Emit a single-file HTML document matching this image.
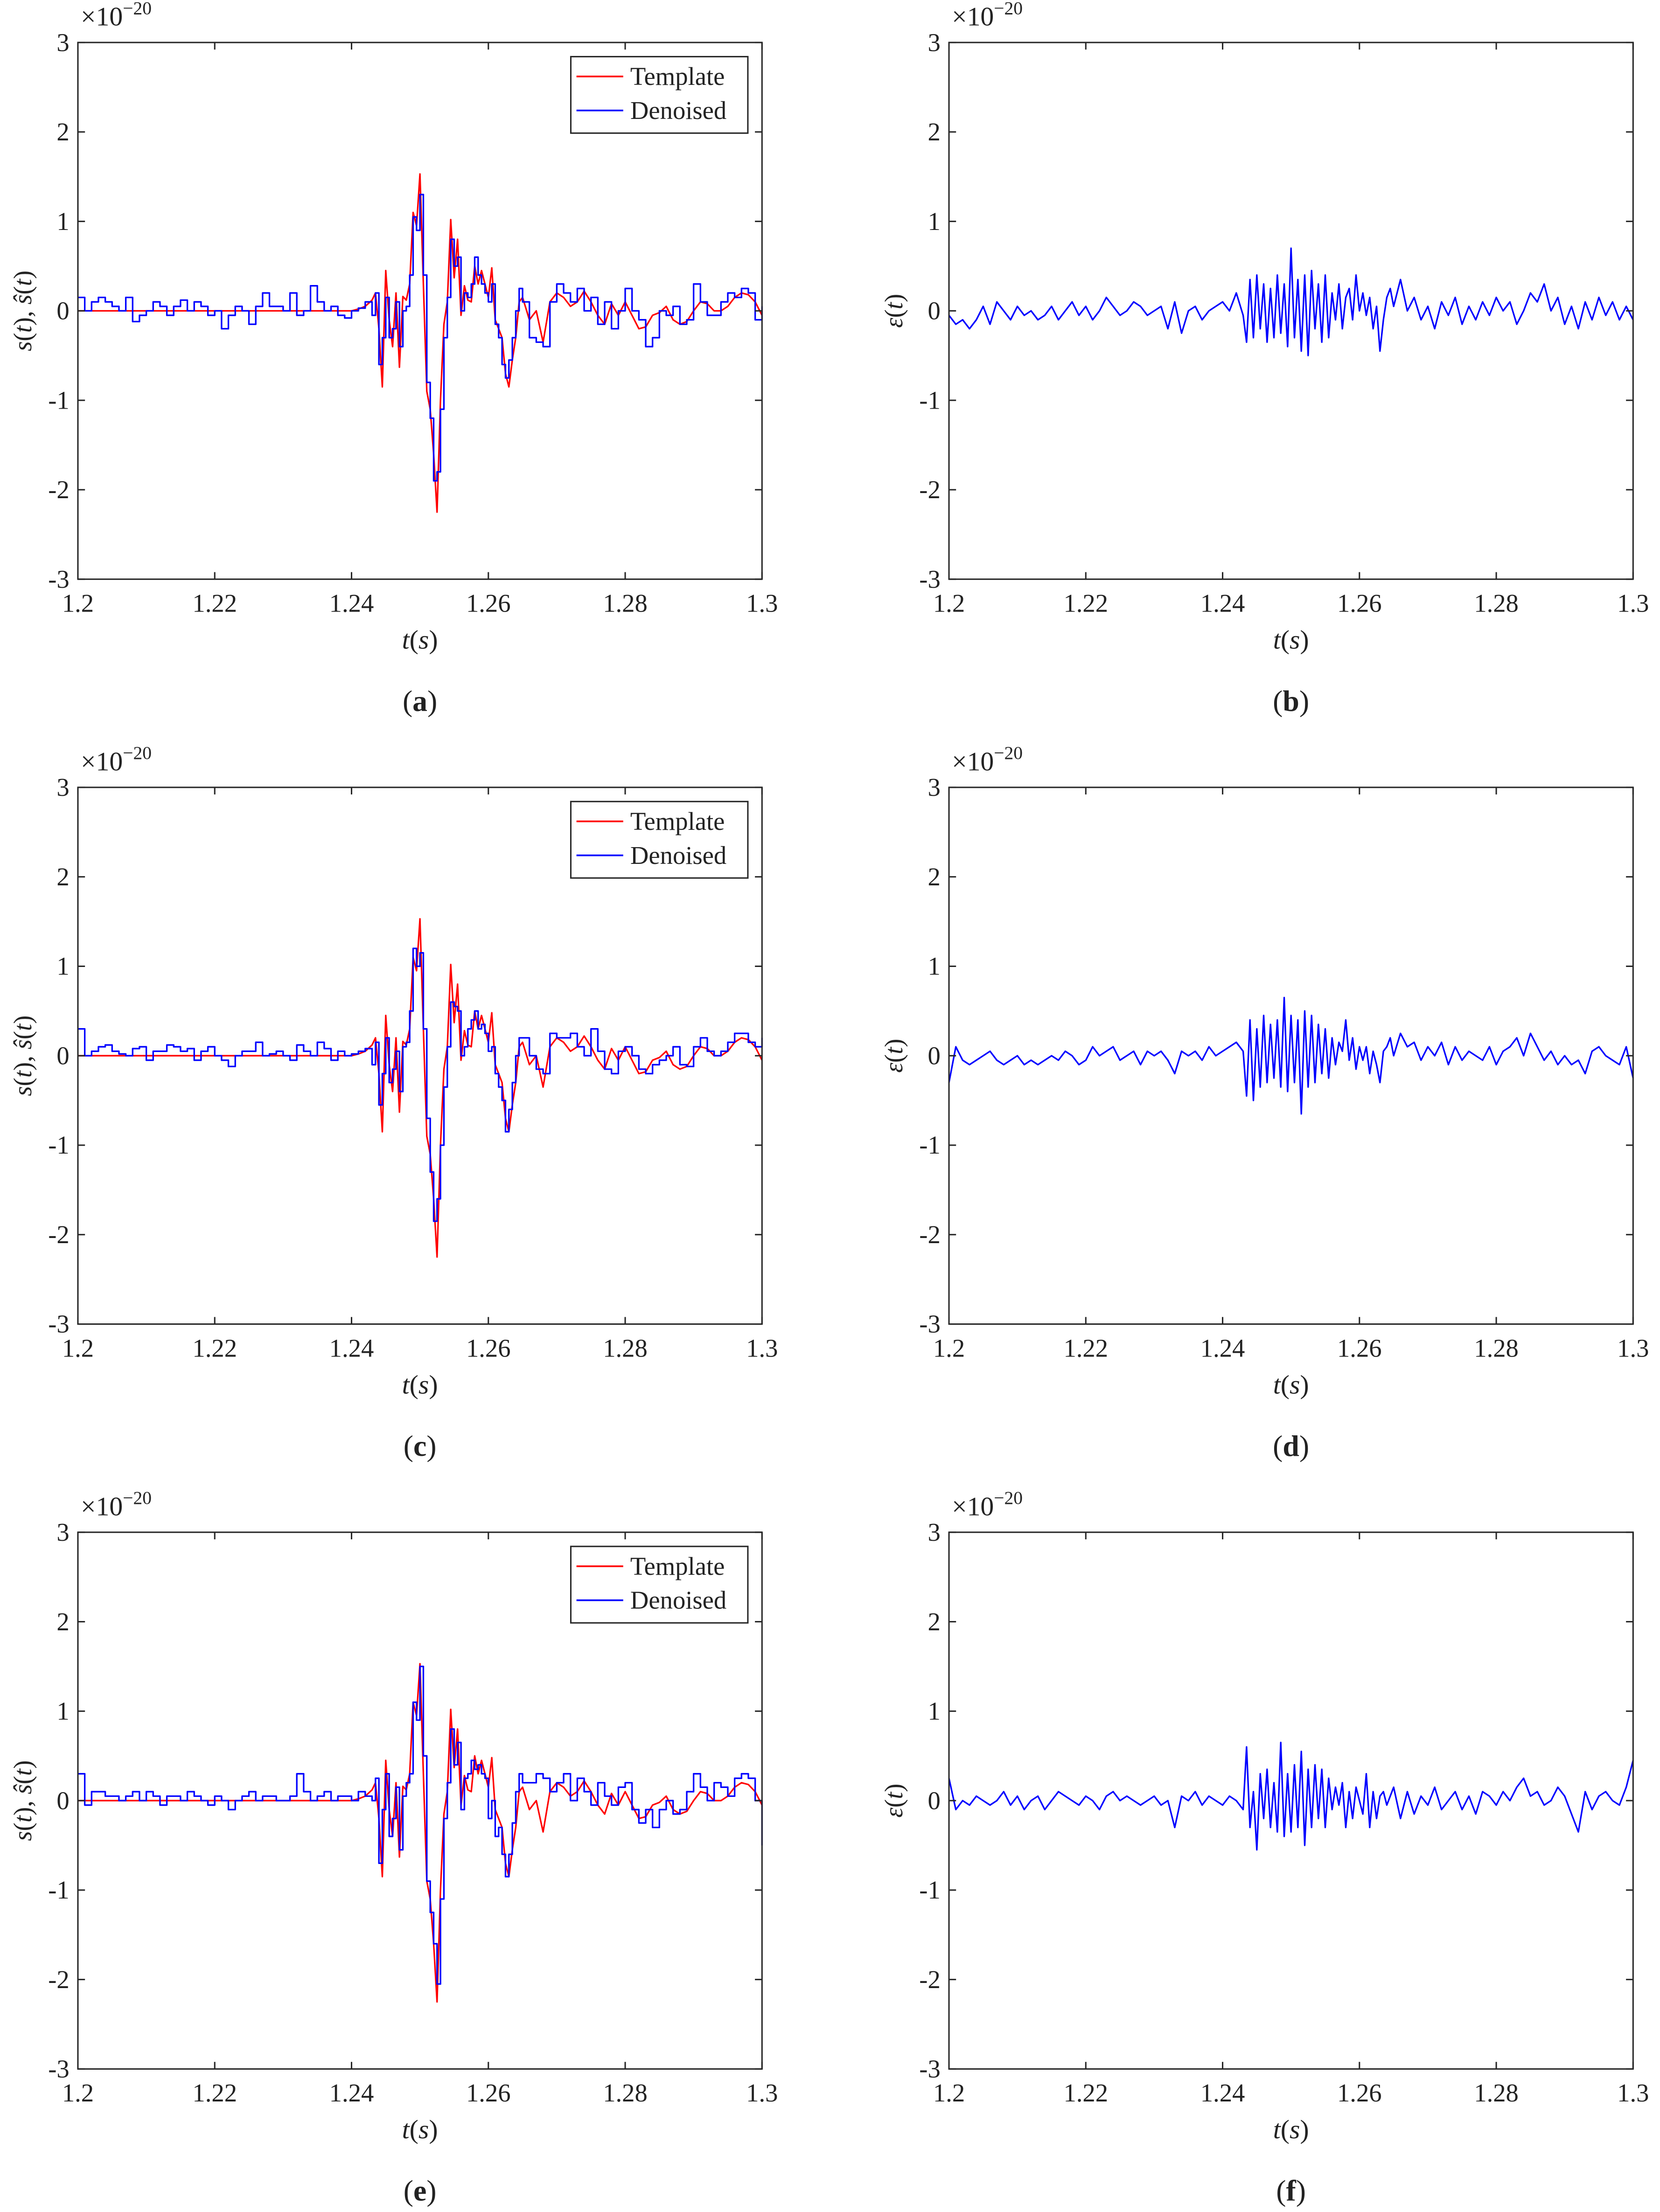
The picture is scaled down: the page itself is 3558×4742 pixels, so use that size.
<!DOCTYPE html>
<html><head><meta charset="utf-8"><style>
html,body{margin:0;padding:0;background:#fff}
svg{display:block}
text{font-family:"Liberation Serif",serif;fill:#222}
</style></head><body>
<svg id="fig" width="3558" height="4742" viewBox="0 0 1172 1562" preserveAspectRatio="none" xmlns="http://www.w3.org/2000/svg"></svg>
<script>
// ---- shared data ----
const xTicks = [1.2, 1.22, 1.24, 1.26, 1.28, 1.3];
const xTickLabels = ["1.2", "1.22", "1.24", "1.26", "1.28", "1.3"];
const yTicks = [-3, -2, -1, 0, 1, 2, 3];
const yTickLabels = ["-3", "-2", "-1", "0", "1", "2", "3"];
const panelLetters = ["a", "b", "c", "d", "e", "f"];
// time segments: pre 1.200.. step 1ms, chirp 1.2435.. step 0.5ms, post 1.266.. step 1ms
const segStart = [1.200, 1.2435, 1.266];
const segStep = [0.001, 0.0005, 0.001];

const templatePre = [0,0,0,0,0,0,0,0,0,0, 0,0,0,0,0,0,0,0,0,0, 0,0,0,0,0,0,0,0,0,0, 0,0,0,0,0,0,0,0,0,0, 0,0.02,0.05,0.12];
const templateChirp = [0.2,-0.2,-0.85,0.45,-0.1,-0.4,0.2,-0.63,0.16,0.12, 0.3,1.1,0.95,1.53,0.3,-0.9,-1.1,-1.6,-2.25,-1.0, -0.15,0.1,1.02,0.37,0.8,-0.05,0.28,0.12,0.1,0.5, 0.3,0.45,0.3,0.15,0.48,-0.1,-0.2,-0.3,-0.7,-0.85, -0.55,-0.3,0.1,0.15];
const templatePost = [-0.1,0.0,-0.35,0.1,0.2,0.15,0.05,0.1,0.22,0.1, -0.05,-0.15,0.08,-0.05,0.1,-0.05,-0.2,-0.18,-0.05,-0.02, 0.05,-0.1,-0.15,-0.12,0.0,0.1,0.08,0.0,0.0,0.05, 0.15,0.2,0.18,0.1,-0.05];

const denoisedAPre = [0.15,0.0,0.1,0.15,0.1,0.05,0.0,0.15,-0.12,-0.05, 0.0,0.1,0.05,-0.05,0.05,0.12,0.0,0.1,0.05,-0.05, 0.0,-0.2,-0.05,0.05,0.0,-0.15,0.05,0.2,0.05,0.05, 0.0,0.2,-0.05,0.0,0.28,0.1,0.0,0.05,-0.05,-0.08, 0.0,0.03,0.1,-0.05];
const denoisedAChirp = [0.2,-0.6,-0.3,0.15,-0.3,-0.2,0.1,-0.4,0.0,0.05, 0.4,1.05,0.9,1.3,0.4,-0.8,-1.2,-1.9,-1.8,-1.1, -0.3,0.15,0.8,0.5,0.6,0.0,0.2,0.15,0.3,0.6, 0.4,0.3,0.2,0.1,0.3,-0.15,-0.3,-0.6,-0.75,-0.55, -0.3,0.0,0.25,0.1];
const denoisedAPost = [-0.3,-0.35,-0.4,0.1,0.3,0.2,0.1,0.25,0.0,0.15, -0.15,0.1,-0.2,0.0,0.25,0.0,-0.1,-0.4,-0.3,0.0, -0.05,0.05,-0.15,-0.1,0.3,0.1,-0.05,-0.05,0.1,0.2, 0.15,0.25,0.2,-0.1,0.05];
const residualBPre = [-0.05,-0.15,-0.1,-0.2,-0.1,0.05,-0.15,0.1,0.0,-0.1, 0.05,-0.05,0.0,-0.1,-0.05,0.05,-0.1,0.0,0.1,-0.05, 0.05,-0.1,0.0,0.15,0.05,-0.05,0.0,0.1,0.05,-0.05, 0.0,0.05,-0.2,0.1,-0.25,0.0,0.05,-0.1,0.0,0.05, 0.1,0.0,0.2,-0.05];
const residualBChirp = [-0.35,0.35,-0.3,0.4,-0.2,0.3,-0.35,0.25,-0.3,0.4, -0.25,0.3,-0.4,0.7,-0.3,0.35,-0.45,0.4,-0.5,0.45, -0.2,0.3,-0.35,0.4,-0.3,0.2,-0.1,0.3,-0.2,0.15, 0.25,-0.1,0.4,0.0,0.2,-0.05,0.15,-0.2,0.05,-0.45, -0.1,0.15,0.25,0.05];
const residualBPost = [0.35,0.0,0.15,-0.1,0.05,-0.2,0.1,-0.05,0.15,-0.15, 0.05,-0.1,0.1,-0.05,0.15,0.0,0.1,-0.15,0.0,0.2, 0.1,0.3,0.0,0.15,-0.15,0.05,-0.2,0.1,-0.1,0.15, -0.05,0.1,-0.1,0.05,-0.1];

const denoisedCPre = [0.3,0.0,0.05,0.1,0.12,0.05,0.02,0.0,0.08,0.1, -0.05,0.05,0.05,0.12,0.1,0.05,0.08,-0.05,0.05,0.1, 0.0,-0.05,-0.12,0.0,0.05,0.05,0.15,0.0,0.02,0.05, 0.0,-0.05,0.12,0.05,0.0,0.15,0.08,-0.05,0.05,0.0, 0.02,0.05,0.08,-0.1];
const denoisedCChirp = [0.15,-0.55,-0.2,0.2,-0.3,-0.15,0.05,-0.4,0.1,0.15, 0.5,1.2,1.0,1.15,0.3,-0.7,-1.3,-1.85,-1.6,-1.0, -0.35,0.1,0.6,0.55,0.5,0.0,0.1,0.3,0.4,0.5, 0.3,0.35,0.25,0.05,0.1,-0.2,-0.35,-0.5,-0.85,-0.6, -0.3,0.0,0.2,0.2];
const denoisedCPost = [0.0,-0.15,-0.2,0.25,0.2,0.2,0.25,0.1,0.0,0.3, 0.05,-0.15,-0.2,0.05,0.1,0.0,-0.15,-0.2,-0.1,-0.05, 0.0,0.1,-0.1,-0.12,0.1,0.2,0.05,0.0,0.05,0.15, 0.25,0.25,0.15,0.1,0.2];
const residualDPre = [-0.3,0.1,-0.05,-0.1,-0.05,0.0,0.05,-0.05,-0.1,-0.05, 0.0,-0.1,-0.05,-0.1,-0.05,0.0,-0.05,0.05,0.0,-0.1, -0.05,0.1,0.0,0.05,0.1,-0.05,0.0,0.05,-0.1,0.05, 0.0,0.05,-0.05,-0.2,0.05,0.0,0.05,-0.05,0.1,0.0, 0.05,0.1,0.15,0.05];
const residualDChirp = [-0.45,0.4,-0.5,0.3,-0.35,0.45,-0.3,0.35,-0.25,0.4, -0.35,0.65,-0.4,0.45,-0.3,0.4,-0.65,0.5,-0.35,0.45, -0.3,0.35,-0.2,0.3,-0.25,0.2,-0.1,0.15,0.05,0.4, -0.05,0.2,-0.15,0.1,-0.05,0.1,-0.2,0.05,-0.1,-0.3, 0.05,0.1,0.2,0.0];
const residualDPost = [0.25,0.1,0.15,-0.05,0.1,0.0,0.15,-0.1,0.1,-0.05, 0.05,0.0,-0.05,0.1,-0.1,0.05,0.1,0.2,0.0,0.25, 0.1,-0.05,0.05,-0.1,0.0,-0.1,-0.05,-0.2,0.05,0.1, 0.0,-0.05,-0.1,0.1,-0.25];

const denoisedEPre = [0.3,-0.05,0.1,0.1,0.05,0.05,0.0,0.05,0.1,0.0, 0.1,0.05,-0.05,0.05,0.05,0.0,0.1,0.05,0.0,-0.05, 0.05,0.0,-0.1,0.0,0.05,0.1,0.0,0.05,0.05,0.0, 0.0,0.05,0.3,0.1,0.0,0.05,0.1,0.0,0.05,0.05, 0.0,0.1,0.05,0.0];
const denoisedEChirp = [0.25,-0.7,-0.1,0.3,-0.4,-0.2,0.15,-0.55,0.05,0.2, 0.3,1.1,0.9,1.5,0.5,-0.9,-1.25,-1.6,-2.05,-1.1, -0.2,0.2,0.8,0.4,0.65,-0.1,0.25,0.3,0.45,0.35, 0.4,0.3,0.25,-0.2,0.0,-0.4,-0.3,-0.6,-0.85,-0.6, -0.25,0.1,0.3,0.2];
const denoisedEPost = [0.2,0.3,0.25,0.1,0.2,0.3,0.0,0.25,0.1,-0.05, 0.2,0.05,-0.05,0.15,0.2,-0.1,-0.25,-0.1,-0.3,-0.1, 0.0,-0.15,-0.1,0.1,0.3,0.15,0.0,0.2,0.15,0.05, 0.25,0.3,0.25,0.0,-0.5];
const residualFPre = [0.25,-0.1,0.0,-0.05,0.05,0.0,-0.05,0.0,0.1,-0.05, 0.05,-0.1,0.0,0.05,-0.1,0.0,0.1,0.05,0.0,-0.05, 0.05,0.0,-0.1,0.05,0.1,0.0,0.05,0.0,-0.05,0.0, 0.05,-0.05,0.0,-0.3,0.05,0.0,0.1,-0.05,0.05,0.0, -0.05,0.05,0.0,-0.1];
const residualFChirp = [0.6,-0.3,0.1,-0.55,0.3,-0.2,0.35,-0.3,0.2,-0.35, 0.65,-0.4,0.3,-0.35,0.4,-0.3,0.55,-0.5,0.35,-0.3, 0.4,-0.2,0.35,-0.3,0.25,-0.1,0.15,-0.05,0.2,-0.3, 0.1,-0.2,0.15,0.0,-0.15,0.3,-0.3,0.1,-0.2,0.05, 0.1,-0.05,0.05,0.15];
const residualFPost = [-0.2,0.1,-0.15,0.05,-0.05,0.15,-0.1,0.0,0.1,-0.1, 0.05,-0.15,0.1,0.05,-0.05,0.1,0.0,0.15,0.25,0.05, 0.1,-0.05,0.0,0.15,0.05,-0.15,-0.35,0.1,-0.1,0.05, 0.1,0.0,-0.05,0.15,0.45];

// ---- drawing ----
const NS = "http://www.w3.org/2000/svg";
const svg = document.getElementById('fig');
function mk(tag, attrs, parent){
  const e = document.createElementNS(NS, tag);
  for (const k in attrs) e.setAttribute(k, attrs[k]);
  (parent||svg).appendChild(e); return e;
}
function series(pre, chirp, post){
  const segs=[pre,chirp,post], out=[];
  segs.forEach((s,i)=>s.forEach((v,j)=>out.push([segStart[i]+j*segStep[i], v])));
  return out;
}
const panels = [
  {col:0,row:0,lines:[[series(templatePre,templateChirp,templatePost),'#ff0000','template-line',false],[series(denoisedAPre,denoisedAChirp,denoisedAPost),'#0000ff','denoised-line',true]],legend:true},
  {col:1,row:0,lines:[[series(residualBPre,residualBChirp,residualBPost),'#0000ff','residual-line',false]]},
  {col:0,row:1,lines:[[series(templatePre,templateChirp,templatePost),'#ff0000','template-line',false],[series(denoisedCPre,denoisedCChirp,denoisedCPost),'#0000ff','denoised-line',true]],legend:true},
  {col:1,row:1,lines:[[series(residualDPre,residualDChirp,residualDPost),'#0000ff','residual-line',false]]},
  {col:0,row:2,lines:[[series(templatePre,templateChirp,templatePost),'#ff0000','template-line',false],[series(denoisedEPre,denoisedEChirp,denoisedEPost),'#0000ff','denoised-line',true]],legend:true},
  {col:1,row:2,lines:[[series(residualFPre,residualFChirp,residualFPost),'#0000ff','residual-line',false]]}
];
panels.forEach((p,idx)=>{
  const L = p.col===0?55:670, R = L+483, T = 30+p.row*526, B = T+379;
  const xs = t => L + (t-1.2)/0.1*(R-L);
  const ys = v => B - (v+3)/6*(B-T);
  const g = mk('g',{});
  
  
  p.lines.forEach(([pts,col,name,step])=>{
    const coords=[];
    pts.forEach((q,i)=>{
      const x=xs(q[0]), y=ys(q[1]);
      if(step && i>0){ coords.push(x.toFixed(2)+','+ys(pts[i-1][1]).toFixed(2)); }
      coords.push(x.toFixed(2)+','+y.toFixed(2));
    });
    const path = mk('polyline',{points:coords.join(' '),fill:'none',stroke:col,'stroke-width':1.1,'stroke-linejoin':'round'},g);
    
    
  });
  const box = mk('rect',{x:L,y:T,width:R-L,height:B-T,fill:'none',stroke:'#262626','stroke-width':1},g);
  
  
  xTicks.forEach((t,i)=>{
    const x = xs(t);
    mk('line',{x1:x,x2:x,y1:B,y2:B-5,stroke:'#262626','stroke-width':1},g);
    mk('line',{x1:x,x2:x,y1:T,y2:T+5,stroke:'#262626','stroke-width':1},g);
    const tx = mk('text',{x:x,y:B+23,'font-size':18,'text-anchor':'middle'},g);
    tx.textContent = xTickLabels[i];
    
    
  });
  yTicks.forEach((v,i)=>{
    const y = ys(v);
    mk('line',{x1:L,x2:L+5,y1:y,y2:y,stroke:'#262626','stroke-width':1},g);
    mk('line',{x1:R,x2:R-5,y1:y,y2:y,stroke:'#262626','stroke-width':1},g);
    const tx = mk('text',{x:L-6,y:y+6,'font-size':18,'text-anchor':'end'},g);
    tx.textContent = yTickLabels[i];
    
    
  });
  const ex = mk('text',{x:L+2,y:T-12,'font-size':19},g);
  ex.innerHTML = '×10<tspan dy="-8" font-size="13">−20</tspan>';
  
  
  const xl = mk('text',{x:(L+R)/2,y:B+49,'font-size':19,'text-anchor':'middle','font-style':'italic'},g);
  xl.innerHTML = 't<tspan font-style="normal">(</tspan>s<tspan font-style="normal">)</tspan>';
  
  
  const yl = mk('text',{x:0,y:0,'font-size':18,'text-anchor':'middle','font-style':'italic',transform:`translate(${L-33},${(T+B)/2}) rotate(-90)`},g);
  yl.innerHTML = p.col===0 ? 's<tspan font-style="normal">(</tspan>t<tspan font-style="normal">), </tspan>ŝ<tspan font-style="normal">(</tspan>t<tspan font-style="normal">)</tspan>' : 'ε<tspan font-style="normal">(</tspan>t<tspan font-style="normal">)</tspan>';
  
  
  const sl = mk('text',{x:(L+R)/2,y:B+93,'font-size':21,'text-anchor':'middle'},g);
  sl.innerHTML = '(<tspan font-weight="bold">'+panelLetters[idx]+'</tspan>)';
  
  
  if (p.legend){
    const lg = mk('g',{},g);
    
    
    mk('rect',{x:R-135,y:T+10,width:125,height:54,fill:'#fff',stroke:'#262626','stroke-width':1},lg);
    [['Template','#ff0000'],['Denoised','#0000ff']].forEach(([lab,col],k)=>{
      const yy = T+24+k*24;
      mk('line',{x1:R-131,x2:R-98,y1:yy,y2:yy,stroke:col,'stroke-width':1.2},lg);
      const t = mk('text',{x:R-93,y:yy+6,'font-size':18},lg);
      t.textContent = lab;
      
      
    });
  }
});
</script>
</body></html>
